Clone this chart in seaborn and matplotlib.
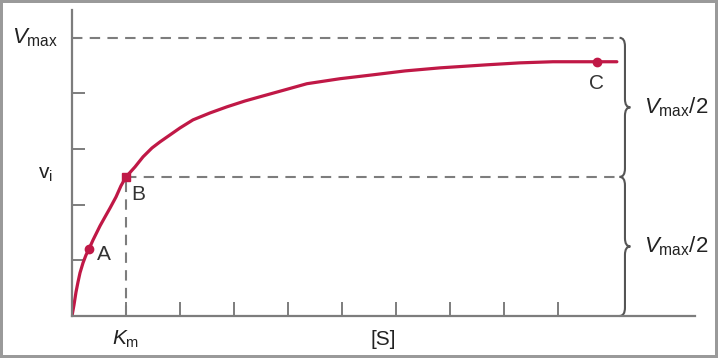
import numpy as np
import matplotlib
matplotlib.use('Agg')
import matplotlib.pyplot as plt
from matplotlib.path import Path
from matplotlib.patches import PathPatch
import seaborn as sns

# curve (x in units of Km, y in units of Vmax)
s_vals = [0.0, 0.037, 0.074, 0.111, 0.148, 0.204, 0.259, 0.315, 0.389, 0.463, 0.519,
          0.611, 0.704, 0.815, 0.907, 1.0, 1.167, 1.315, 1.481, 1.63, 1.815, 2.0,
          2.24, 2.556, 2.87, 3.204, 3.48, 3.944, 4.35, 4.963, 5.574, 6.167, 6.815,
          7.685, 8.296, 8.907, 9.72, 10.09]
v_vals = [0.0, 0.040, 0.086, 0.122, 0.155, 0.191, 0.219, 0.241, 0.273, 0.302, 0.324,
          0.356, 0.388, 0.428, 0.468, 0.5, 0.536, 0.572, 0.604, 0.626, 0.651, 0.676,
          0.705, 0.730, 0.752, 0.773, 0.788, 0.813, 0.835, 0.853, 0.867, 0.881, 0.892,
          0.903, 0.910, 0.914, 0.914, 0.914]

point_labels = ['A', 'B', 'C']
point_s = [0.315, 1.0, 9.72]
point_v = [0.241, 0.5, 0.914]

vmax = 1.0
km = 1.0
x_ticks = [1, 2, 3, 4, 5, 6, 7, 8, 9]
y_ticks = [0.2, 0.4, 0.6, 0.8]

red = '#c01846'
grey = '#7d7d7d'

sns.set_style('white')
plt.rcParams['font.family'] = ['Liberation Sans', 'DejaVu Sans']
plt.rcParams['mathtext.fontset'] = 'custom'
plt.rcParams['mathtext.rm'] = 'Liberation Sans'
plt.rcParams['mathtext.it'] = 'Liberation Sans:italic'

fig = plt.figure(figsize=(7.18, 3.58), dpi=100, edgecolor='#9a9a9a', linewidth=3)
ax = fig.add_axes([72 / 718, 42 / 358, 623 / 718, 306 / 358])
ax.set_xlim(0, 623 / 54)
ax.set_ylim(0, 1.10)

sns.despine(ax=ax)
for side in ['left', 'bottom']:
    ax.spines[side].set_color(grey)
    ax.spines[side].set_linewidth(1.6)

ax.set_xticks(x_ticks)
ax.set_yticks(y_ticks)
ax.set_xticklabels([])
ax.set_yticklabels([])
ax.tick_params(axis='both', direction='in', color=grey, width=1.4,
               bottom=True, left=True)
ax.tick_params(axis='x', length=10)
ax.tick_params(axis='y', length=9.5)

# dashed guide lines
brace_x = 10.24
dash = (0, (5, 3.5))
ax.plot([0, brace_x - 0.1], [vmax, vmax], color=grey, lw=1.5, ls=dash)
ax.plot([km, brace_x - 0.1], [vmax / 2, vmax / 2], color=grey, lw=1.5, ls=dash)
ax.plot([km, km], [0, vmax / 2], color=grey, lw=1.5, ls=dash)

# Michaelis-Menten curve
sns.lineplot(x=s_vals, y=v_vals, sort=False, color=red, lw=2.3, ax=ax)
for lab, s, v in zip(point_labels, point_s, point_v):
    ax.plot(s, v, marker='s' if lab == 'B' else 'o', ms=6, color=red)

offsets = {'A': (15, -6), 'B': (12, -18), 'C': (0, -22)}
for lab, s, v in zip(point_labels, point_s, point_v):
    ax.annotate(lab, xy=(s, v), xytext=offsets[lab], textcoords='offset pixels',
                ha='center', va='center', fontsize=15, color='#333333')


def brace(ax, x, top, bot, w=0.1, t=0.1, h=0.03):
    mid = (top + bot) / 2
    verts = [(x - w, top), (x, top), (x, top - h),
             (x, mid + h), (x, mid), (x + t, mid), (x, mid), (x, mid - h),
             (x, bot + h), (x, bot), (x - w, bot)]
    codes = [Path.MOVETO, Path.CURVE3, Path.CURVE3,
             Path.LINETO, Path.CURVE3, Path.CURVE3, Path.CURVE3, Path.CURVE3,
             Path.LINETO, Path.CURVE3, Path.CURVE3]
    ax.add_patch(PathPatch(Path(verts, codes), fill=False, edgecolor='#555555',
                           lw=1.5, clip_on=False))
    return mid


for top, bot in [(vmax, vmax / 2), (vmax / 2, 0)]:
    mid = brace(ax, brace_x, top, bot)
    ax.text(brace_x + 0.36, mid, r'$V_{\mathrm{max}}$/2', fontsize=16,
            ha='left', va='center', color='#222222', clip_on=False)

ax.text(-0.26, vmax, r'$V_{\mathrm{max}}$', fontsize=16, ha='right', va='center',
        color='#222222')
ax.text(-0.35, 0.51, r'$\mathrm{v}_{\mathrm{i}}$', fontsize=15, ha='right', va='center',
        color='#222222')
ax.text(km, -0.085, r'$K_{\mathrm{m}}$', fontsize=15, ha='center', va='center',
        color='#222222')
ax.text(5.76, -0.085, '[S]', fontsize=15, ha='center', va='center', color='#222222')

fig.savefig('out.png', dpi=100, edgecolor=fig.get_edgecolor())
